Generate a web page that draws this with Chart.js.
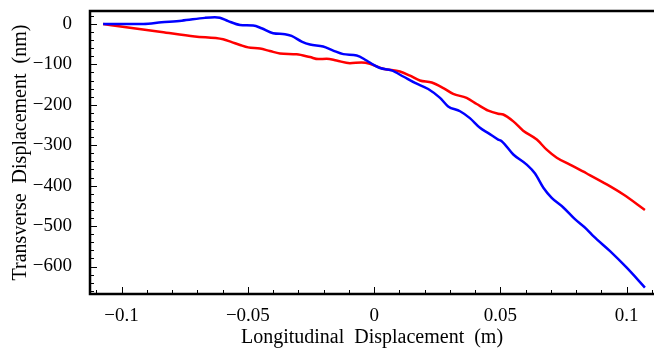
<!DOCTYPE html>
<html>
<head>
<meta charset="utf-8">
<script src="https://cdn.jsdelivr.net/npm/chart.js@4"></script>
<style>
  html, body { margin: 0; padding: 0; background: #fff; }
  #wrap { width: 654px; height: 350px; }
</style>
</head>
<body>
<div id="wrap"><canvas id="dispChart" width="654" height="350"></canvas></div>
<script>
// blue series (longitudinal m, transverse nm)
const blueX = [-0.1073, -0.0914, -0.0842, -0.0762, -0.0670, -0.0631, -0.0611, -0.0578, -0.0531, -0.0479,
  -0.0446, -0.0400, -0.0353, -0.0327, -0.0287, -0.0254, -0.0202, -0.0162, -0.0122, -0.0069,
  -0.0030, 0.0000, 0.0023, 0.0069, 0.0115, 0.0162, 0.0214, 0.0261, 0.0293, 0.0340,
  0.0379, 0.0419, 0.0452, 0.0491, 0.0505, 0.0551, 0.0604, 0.0637, 0.0670, 0.0703,
  0.0749, 0.0795, 0.0842, 0.0868, 0.0934, 0.1000, 0.1072];
const blueY = [0, 0, 4, 8, 15, 16.5, 15.5, 7, -2.5, -4,
  -10.6, -23, -25.4, -29.6, -43.6, -51, -56, -66, -74.7, -78,
  -90.5, -102, -109, -115, -130, -146, -161, -183, -204, -216,
  -233, -257, -270, -286, -290, -323, -348, -370, -405, -430,
  -454, -483, -508, -525, -562, -603, -652];

// red series
const redX = [-0.1073, -0.0974, -0.0842, -0.0710, -0.0598, -0.0564, -0.0531, -0.0499, -0.0452, -0.0413,
  -0.0373, -0.0307, -0.0254, -0.0221, -0.0188, -0.0149, -0.0096, -0.0050, -0.0017, 0.0036,
  0.0102, 0.0142, 0.0181, 0.0228, 0.0274, 0.0313, 0.0366, 0.0406, 0.0452, 0.0491,
  0.0511, 0.0551, 0.0590, 0.0644, 0.0683, 0.0723, 0.0775, 0.0842, 0.0921, 0.0987, 0.1072];
const redY = [0, -9, -20, -31, -38, -45, -52, -58, -61, -67,
  -73, -75, -82, -87, -86, -90.5, -97, -95.5, -98.6, -111,
  -117.6, -128, -140, -145, -158.6, -173, -183, -198, -214.5, -222,
  -224, -241, -264, -286, -311, -331, -348, -370, -397, -422, -460];

const xTickValues = [-0.1, -0.05, 0, 0.05, 0.1];
const yTickValues = [0, -100, -200, -300, -400, -500, -600];
const xMinorStep = 0.01;
const yMinorStep = 20;

const serif = '"Liberation Serif", "Times New Roman", serif';

function fmt(v) {
  return v < 0 ? '\u2212' + String(-v) : String(v);
}

function toPoints(xs, ys) {
  return xs.map((x, i) => ({ x: x, y: ys[i] }));
}

// fixed axis size, and no extra room for the end labels
function fixBox(s, size) {
  if (s.isHorizontal()) s.height = size; else s.width = size;
  s.paddingTop = 0;
  s.paddingBottom = 0;
  s.paddingLeft = 0;
  s.paddingRight = 0;
}

// frame on left/top/bottom plus inward ticks, Mathematica style
const frameTicks = {
  id: 'frameTicks',
  afterDraw(chart) {
    const { ctx, chartArea: a, scales } = chart;
    const xs = scales.x, ys = scales.y;
    ctx.save();
    ctx.strokeStyle = '#000';
    ctx.lineWidth = 1;
    ctx.beginPath();
    const x0 = Math.ceil(xs.min / xMinorStep) * xMinorStep;
    for (let v = x0; v <= xs.max + 1e-9; v += xMinorStep) {
      const major = xTickValues.some(t => Math.abs(t - v) < 1e-6);
      const px = Math.round(xs.getPixelForValue(v)) + 0.5;
      ctx.moveTo(px, a.bottom);
      ctx.lineTo(px, a.bottom - (major ? 7 : 4));
    }
    const y0 = Math.ceil(ys.min / yMinorStep) * yMinorStep;
    for (let v = y0; v <= ys.max + 1e-9; v += yMinorStep) {
      const major = yTickValues.some(t => Math.abs(t - v) < 1e-6);
      const py = Math.round(ys.getPixelForValue(v)) + 0.5;
      ctx.moveTo(a.left, py);
      ctx.lineTo(a.left + (major ? 7 : 4), py);
    }
    ctx.stroke();

    ctx.lineWidth = 2.5;
    ctx.beginPath();
    ctx.moveTo(a.right, a.top);
    ctx.lineTo(a.left, a.top);
    ctx.lineTo(a.left, a.bottom);
    ctx.lineTo(a.right, a.bottom);
    ctx.stroke();
    ctx.restore();
  }
};

const ctx = document.getElementById('dispChart').getContext('2d');
new Chart(ctx, {
  type: 'scatter',
  data: {
    datasets: [
      {
        data: toPoints(blueX, blueY),
        showLine: true,
        borderColor: '#0000ff',
        borderWidth: 2.5,
        pointRadius: 0,
        cubicInterpolationMode: 'monotone'
      },
      {
        data: toPoints(redX, redY),
        showLine: true,
        borderColor: '#ff0000',
        borderWidth: 2.5,
        pointRadius: 0,
        cubicInterpolationMode: 'monotone'
      }
    ]
  },
  options: {
    responsive: false,
    animation: false,
    layout: { padding: { top: 11, right: 0, left: 0, bottom: 0 } },
    plugins: {
      legend: { display: false },
      tooltip: { enabled: false }
    },
    scales: {
      x: {
        type: 'linear',
        min: -0.1125,
        max: 0.1108,
        grid: { display: false },
        border: { display: false },
        afterBuildTicks: (s) => { s.ticks = xTickValues.map(v => ({ value: v })); },
        afterFit: (s) => fixBox(s, 56),
        ticks: {
          color: '#000',
          padding: 3,
          maxRotation: 0,
          autoSkip: false,
          font: { family: serif, size: 19 },
          callback: (v) => fmt(v)
        },
        title: {
          display: true,
          text: 'Longitudinal  Displacement  (m)',
          color: '#000',
          font: { family: serif, size: 20 },
          padding: { top: 0, bottom: 0 }
        }
      },
      y: {
        type: 'linear',
        min: -668,
        max: 32,
        grid: { display: false },
        border: { display: false },
        afterBuildTicks: (s) => { s.ticks = yTickValues.map(v => ({ value: v })); },
        afterFit: (s) => fixBox(s, 90),
        ticks: {
          color: '#000',
          padding: 10,
          autoSkip: false,
          font: { family: serif, size: 19 },
          callback: (v) => fmt(v)
        },
        title: {
          display: true,
          text: 'Transverse  Displacement  (nm)',
          color: '#000',
          font: { family: serif, size: 20 },
          padding: { top: 9, bottom: 0 }
        }
      }
    }
  },
  plugins: [frameTicks]
});
</script>
</body>
</html>
